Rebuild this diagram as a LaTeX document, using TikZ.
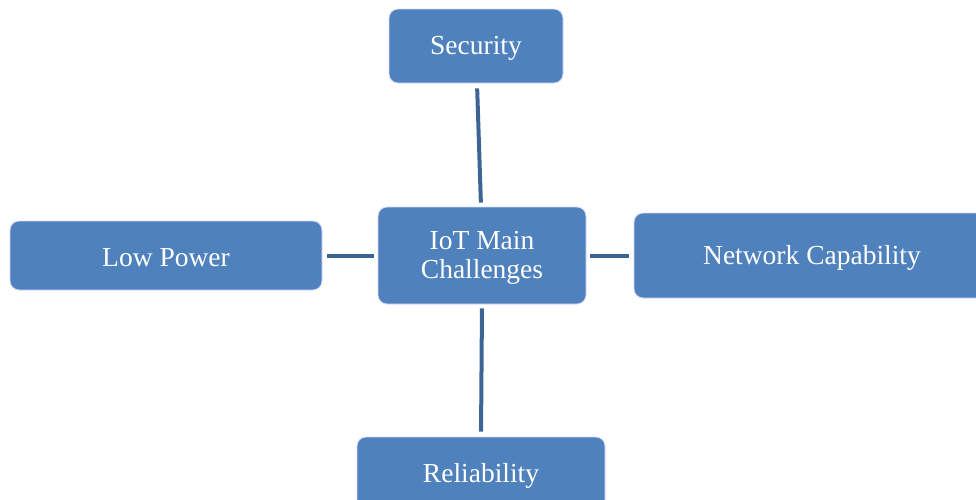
\documentclass[tikz,border=0pt]{standalone}
\usepackage{fontspec}
\setmainfont{Liberation Serif}
\newcommand{\dnshift}[1]{\raisebox{-2.5pt}[\height][\depth]{#1}}
\begin{document}
\begin{tikzpicture}[x=1pt,y=-1pt,
  box/.style={draw=white!85!blue, line width=0.8pt, fill=boxblue, rounded corners=9pt,
    text=white, inner sep=0pt, align=center,
    font=\fontsize{27.5}{29}\selectfont},
  link/.style={draw=lineblue, line width=4pt, shorten <=5pt, shorten >=4pt}]
\definecolor{boxblue}{HTML}{4F81BD}
\definecolor{lineblue}{HTML}{3C6596}
\useasboundingbox (0,0) rectangle (976,499);
\node[box, minimum width=174pt, minimum height=74pt] (sec) at (476,46) {\dnshift{Security}};
\node[box, minimum width=208pt, minimum height=97pt] (ctr) at (482,255.5) {\dnshift{\begin{tabular}{@{}c@{}}IoT Main\\Challenges\end{tabular}}};
\node[box, minimum width=312pt, minimum height=69pt] (lp) at (166,255.5) {\dnshift{Low Power}};
\node[box, minimum width=356pt, minimum height=85pt] (net) at (812,255.5) {\dnshift{Network Capability}};
\node[box, minimum width=248pt, minimum height=72pt] (rel) at (481,473) {\dnshift{Reliability}};
\draw[link] ([xshift=1pt]sec.south) -- ([xshift=-1pt]ctr.north);
\draw[link] (lp.east) -- (ctr.west);
\draw[link, shorten <=4pt, shorten >=5pt] (ctr.east) -- (net.west);
\draw[link, shorten <=4pt, shorten >=5pt] (ctr.south) -- (rel.north);
\end{tikzpicture}
\end{document}
